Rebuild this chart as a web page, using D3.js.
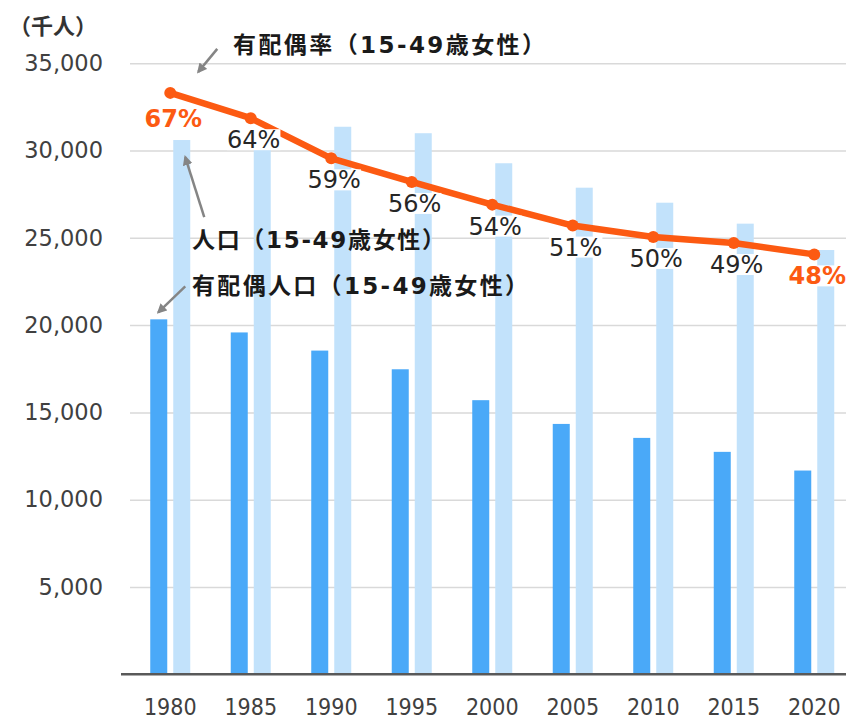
<!DOCTYPE html>
<html>
<head>
<meta charset="utf-8">
<script src="https://cdn.jsdelivr.net/npm/d3@7"></script>
<style>
  body { margin: 0; background: #fff; }
  svg { display: block; }
</style>
</head>
<body>
<svg width="846" height="720"></svg>
<script>
var years = ['1980', '1985', '1990', '1995', '2000', '2005', '2010', '2015', '2020']
// 人口（15-49歳女性）, 千人
var population = [30600, 30740, 31360, 30990, 29270, 27870, 27010, 25810, 24300]
// 有配偶人口（15-49歳女性）, 千人
var married = [20330, 19580, 18540, 17470, 15700, 14340, 13540, 12740, 11670]
// 有配偶率, %
var rate = [66.6, 63.7, 59.1, 56.4, 53.8, 51.4, 50.1, 49.4, 48.1]
var yTicks = [5000, 10000, 15000, 20000, 25000, 30000, 35000]

var cjk = "'DejaVu Sans', 'Noto Sans CJK JP', sans-serif"

var svg = d3.select('svg')

var x = d3.scaleBand().domain(years).range([130, 854.5])
var inner = d3.scaleBand().domain(['married', 'population']).range([-20, 20]).paddingInner(0.261)
var y = d3.scaleLinear().domain([0, 35000]).range([674.3, 63.2])
var yRate = d3.scaleLinear().domain([0, 70]).range([674.3, 63.2])

function cx (d) { return x(d) + x.bandwidth() / 2 }

// grid + y labels
var yAxis = svg.append('g')
  .attr('transform', 'translate(130,0)')
  .call(d3.axisLeft(y).tickValues(yTicks).tickSize(-716).tickPadding(27).tickFormat(d3.format(',')))
yAxis.select('.domain').remove()
yAxis.selectAll('line').attr('stroke', '#d9d9d9').attr('stroke-width', 1.5)
yAxis.selectAll('text')
  .attr('fill', '#404040')
  .style('font-family', "'DejaVu Sans', sans-serif")
  .style('font-size', '22.5px')

svg.append('text')
  .attr('x', 9).attr('y', 34)
  .attr('fill', '#333')
  .style('font-family', "'Noto Sans CJK JP', sans-serif")
  .style('font-size', '22px')
  .style('font-weight', 'bold')
  .text('（千人）')

// bars
var groups = svg.append('g').selectAll('g')
  .data(years)
  .join('g')
  .attr('transform', function (d) { return 'translate(' + cx(d) + ',0)' })

groups.append('rect')
  .attr('x', inner('married'))
  .attr('width', inner.bandwidth())
  .attr('y', function (d, i) { return y(married[i]) })
  .attr('height', function (d, i) { return y(0) - y(married[i]) })
  .attr('fill', '#4aa9f8')

groups.append('rect')
  .attr('x', inner('population'))
  .attr('width', inner.bandwidth())
  .attr('y', function (d, i) { return y(population[i]) })
  .attr('height', function (d, i) { return y(0) - y(population[i]) })
  .attr('fill', '#c2e2fb')

// x axis
var xAxis = svg.append('g')
  .attr('transform', 'translate(0,' + y(0) + ')')
  .call(d3.axisBottom(x).tickSize(0).tickPadding(24))
xAxis.select('.domain').remove()
xAxis.selectAll('text')
  .attr('fill', '#404040')
  .style('font-family', "'DejaVu Sans Condensed', 'DejaVu Sans', sans-serif")
  .style('font-size', '23px')

svg.append('line')
  .attr('x1', 121).attr('x2', 846)
  .attr('y1', y(0)).attr('y2', y(0))
  .attr('stroke', '#595959')
  .attr('stroke-width', 2.5)

// rate line
var orange = '#fc5a12'
var line = d3.line()
  .x(function (d, i) { return cx(years[i]) })
  .y(function (d) { return yRate(d) })

svg.append('path')
  .attr('d', line(rate))
  .attr('fill', 'none')
  .attr('stroke', orange)
  .attr('stroke-width', 6.5)
  .attr('stroke-linejoin', 'round')

svg.append('g').selectAll('circle')
  .data(rate)
  .join('circle')
  .attr('cx', function (d, i) { return cx(years[i]) })
  .attr('cy', function (d) { return yRate(d) })
  .attr('r', 6)
  .attr('fill', orange)

// rate labels (white box like the original data labels)
var labelsG = svg.append('g')
rate.forEach(function (r, i) {
  var hi = i === 0 || i === rate.length - 1
  var bx = cx(years[i]) + 3
  var by = yRate(r) + (i === 0 ? 34 : 30)
  var bg = labelsG.append('rect').attr('fill', '#fff')
  var t = labelsG.append('text')
    .attr('x', bx).attr('y', by)
    .attr('text-anchor', 'middle')
    .attr('fill', hi ? orange : '#262626')
    .style('font-family', "'DejaVu Sans', sans-serif")
    .style('font-size', '24px')
    .style('font-weight', hi ? 'bold' : 'normal')
    .text(Math.round(r) + '%')
  var b = t.node().getBBox()
  bg.attr('x', b.x).attr('width', b.width)
    .attr('y', by - 19).attr('height', 21)
})

// annotations
svg.append('defs').append('marker')
  .attr('id', 'head')
  .attr('viewBox', '0 0 10 10')
  .attr('refX', 8).attr('refY', 5)
  .attr('markerWidth', 4).attr('markerHeight', 4)
  .attr('orient', 'auto')
  .append('path')
  .attr('d', 'M0,0L10,5L0,10z')
  .attr('fill', '#858585')

function note (txt, tx, ty, width, ax1, ay1, ax2, ay2) {
  svg.append('line')
    .attr('x1', ax1).attr('y1', ay1)
    .attr('x2', ax2).attr('y2', ay2)
    .attr('stroke', '#858585')
    .attr('stroke-width', 2.5)
    .attr('marker-end', 'url(#head)')
  svg.append('text')
    .attr('x', tx).attr('y', ty)
    .attr('textLength', width)
    .attr('lengthAdjust', 'spacing')
    .attr('fill', '#1a1a1a')
    .style('font-family', cjk)
    .style('font-size', '23px')
    .style('font-weight', 'bold')
    .text(txt)
}

var x0 = cx(years[0])
note('有配偶率（15-49歳女性）', 233, 53, 312,
  x0 + 47, yRate(rate[0]) - 44, x0 + 28, yRate(rate[0]) - 21)
note('人口（15-49歳女性）', 192, 248, 253,
  x0 + 34, y(population[0]) + 77, x0 + 15, y(population[0]) + 17)
note('有配偶人口（15-49歳女性）', 192, 294, 336,
  x0 + 15, y(married[0]) - 33, x0 - 12, y(married[0]) - 7)
</script>
</body>
</html>
